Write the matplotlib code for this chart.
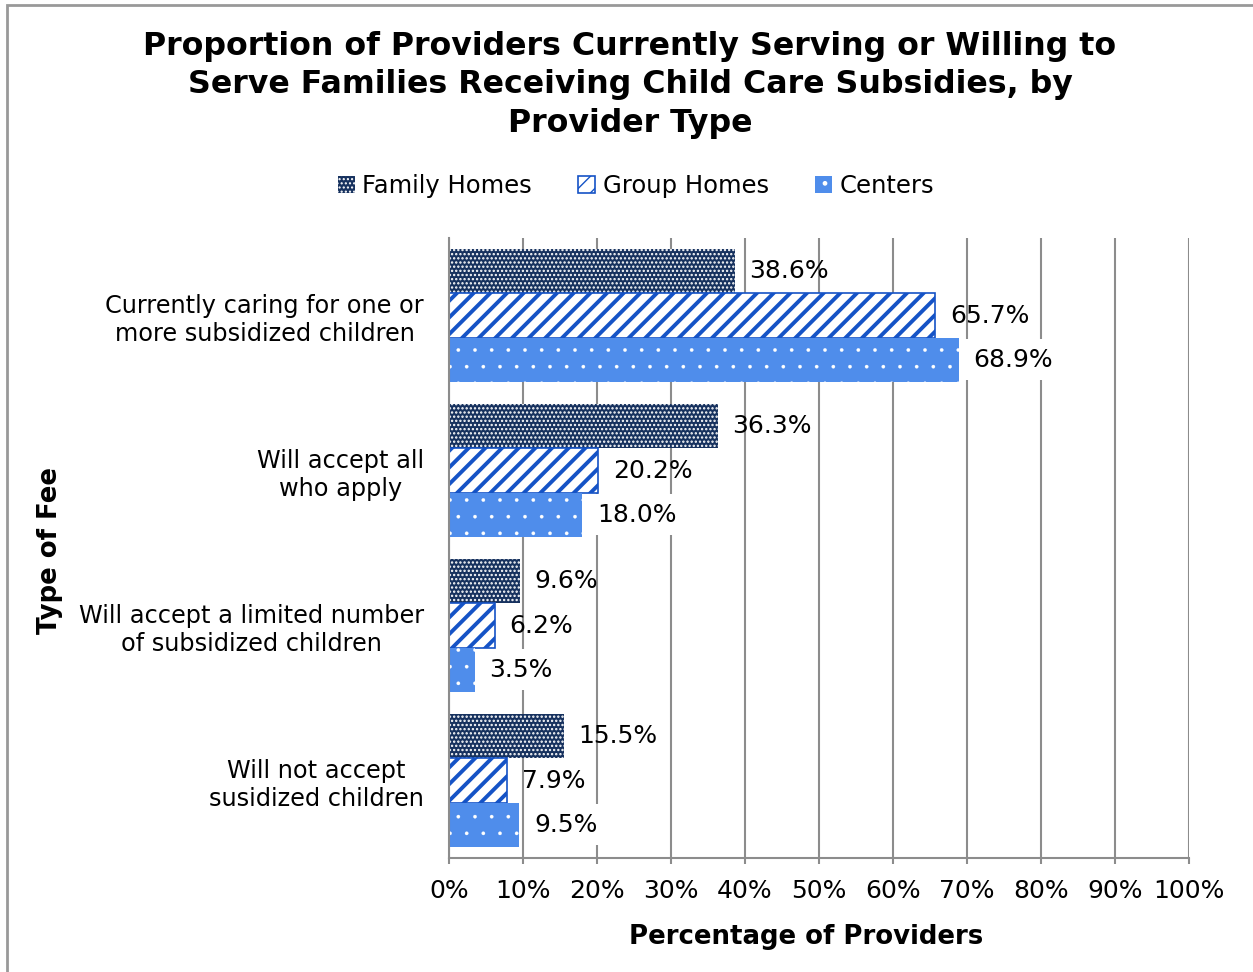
import matplotlib
matplotlib.use("Agg")
import matplotlib.pyplot as plt
import numpy as np
from matplotlib.patches import Rectangle

# данные
categories = [
    "Currently caring for one or\nmore subsidized children",
    "Will accept all\nwho apply",
    "Will accept a limited number\nof subsidized children",
    "Will not accept\nsusidized children",
]
family_homes = [38.6, 36.3, 9.6, 15.5]
group_homes = [65.7, 20.2, 6.2, 7.9]
centers = [68.9, 18.0, 3.5, 9.5]
series_names = ["Family Homes", "Group Homes", "Centers"]
x_ticks = list(range(0, 101, 10))

NAVY = "#17325f"
STRIPE = "#1553c6"
LIGHT = "#4f8deb"
GRID = "#8c8c8c"

plt.rcParams['font.family'] = ['DejaVu Sans']

fig = plt.figure(figsize=(12.53, 9.72), dpi=100)
ax = fig.add_axes([449 / 1253, 1 - 858 / 972, 740 / 1253, 620 / 972])

y = np.arange(len(categories))
h = 0.284


def add_bars(vals, offset, hatch_lw, **kw):
    with plt.rc_context({'hatch.linewidth': hatch_lw}):
        bars = ax.barh(y + offset, vals, height=h, zorder=2, **kw)
    for b in bars:
        if hasattr(b, 'set_hatch_linewidth'):
            b.set_hatch_linewidth(hatch_lw)
    return bars


b1 = add_bars(family_homes, -h, 1.1, color=NAVY, edgecolor="white",
              linewidth=0, hatch="....", label=series_names[0])
b2 = add_bars(group_homes, 0, 2.8, color="white", edgecolor=STRIPE,
              linewidth=1.2, hatch="//", label=series_names[1])
b3 = add_bars(centers, h, 0.2, color=LIGHT, edgecolor="white",
              linewidth=0, hatch=".", label=series_names[2])

# подписи значений
for vals, off, boxed in [(family_homes, -h, False), (group_homes, 0, False), (centers, h, True)]:
    for yi, v in zip(y, vals):
        kw = {}
        if boxed:
            kw['bbox'] = dict(boxstyle="square,pad=0.35", facecolor="white", edgecolor="none")
        ax.annotate(f"{v:.1f}%", (v, yi + off), xytext=(10.5, 0), textcoords="offset points",
                    ha="left", va="center", fontsize=18, zorder=3, **kw)

ax.set_xlim(0, 100)
ax.set_ylim(3.5, -0.5)
ax.set_xticks(x_ticks)
ax.set_xticklabels([f"{t}%" for t in x_ticks], fontsize=18)
ax.set_yticks(y)
ax.set_yticklabels(categories, fontsize=17.3, multialignment="center")
ax.tick_params(axis="y", length=0, pad=18)
ax.tick_params(axis="x", direction="out", length=4, width=1.5, color=GRID, pad=11)
ax.xaxis.grid(True, color=GRID, linewidth=1.5, zorder=0)
ax.set_axisbelow(True)
for s in ["top", "right"]:
    ax.spines[s].set_visible(False)
for s in ["left", "bottom"]:
    ax.spines[s].set_color(GRID)
    ax.spines[s].set_linewidth(1.5)

fig.text(806 / 1253, 1 - 937 / 972, "Percentage of Providers", ha="center", va="center",
         fontsize=18.7, fontweight="bold")
fig.text(50 / 1253, 1 - 550 / 972, "Type of Fee", ha="center", va="center",
         rotation=90, fontsize=18.7, fontweight="bold")

fig.text(630 / 1253, 1 - 85 / 972,
         "Proportion of Providers Currently Serving or Willing to\n"
         "Serve Families Receiving Child Care Subsidies, by\nProvider Type",
         ha="center", va="center", fontsize=22.8, fontweight="bold", linespacing=1.3)

fig.legend(handles=[b1, b2, b3], labels=series_names, loc="center",
           bbox_to_anchor=(636 / 1253, 1 - 186 / 972), ncol=3, frameon=False,
           fontsize=17.5, handlelength=0.7, handleheight=0.7, handletextpad=0.3,
           columnspacing=1.9)

# рамка вокруг рисунка
fig.patches.append(Rectangle((7 / 1253, -0.1), 1.2, 0.1 + 1 - 5 / 972,
                             transform=fig.transFigure, fill=False,
                             edgecolor="#999999", linewidth=2))

fig.savefig("out.png", dpi=100)
